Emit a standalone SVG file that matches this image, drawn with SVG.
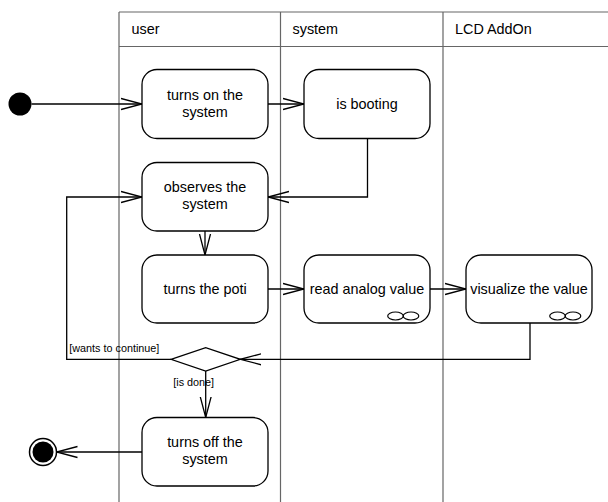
<svg xmlns="http://www.w3.org/2000/svg" width="608" height="502" viewBox="0 0 608 502">
<style>
  .lane { stroke: #666666; stroke-width: 1.2; fill: none; }
  .hdr { font-family: "Liberation Sans", Arial, sans-serif; font-size: 14.4px; fill: #000; }
  .act { fill: #ffffff; stroke: #000; stroke-width: 1.3; }
  .txt { font-family: "Liberation Sans", Arial, sans-serif; font-size: 14.4px; fill: #000; text-anchor: middle; }
  .lbl { font-family: "Liberation Sans", Arial, sans-serif; font-size: 10.8px; fill: #000; }
  .edge { fill: none; stroke: #000; stroke-width: 1.3; marker-end: url(#open); }
  .inf { fill: none; stroke: #000; stroke-width: 1.2; }
</style>
<defs>
  <marker id="open" markerUnits="userSpaceOnUse" markerWidth="24" markerHeight="14" refX="21" refY="6" orient="auto" viewBox="0 0 24 12">
    <path d="M0,0.5 L21,6 L0,11.5" fill="none" stroke="#000" stroke-width="1.3"/>
  </marker>
</defs>
<rect x="0" y="0" width="608" height="502" fill="#ffffff"/>
<g id="swimlanes">
  <path class="lane" d="M119,12 H608 M119,46.5 H608 M119,12 V502 M280.5,12 V502 M443,12 V502"/>
  <text class="hdr" x="131.5" y="33.5">user</text>
  <text class="hdr" x="292.5" y="33.5">system</text>
  <text class="hdr" x="455" y="33.5">LCD AddOn</text>
</g>
<g id="connectors">
  <path class="edge" d="M31.5,104 H142"/>
  <path class="edge" d="M268,104 H304"/>
  <path class="edge" d="M367.5,138.5 V197 H268"/>
  <path class="edge" d="M205,231 V255"/>
  <path class="edge" d="M268,289 H304"/>
  <path class="edge" d="M430,289 H466"/>
  <path class="edge" d="M530,323 V359.3 H240.3"/>
  <path class="edge" d="M171,359.3 H66.7 V197 H142"/>
  <path class="edge" d="M205.7,371 V417.5"/>
  <path class="edge" d="M142,452 H56.5"/>
  <text class="lbl" x="69.3" y="351.7">[wants to continue]</text>
  <text class="lbl" x="173.3" y="386">[is done]</text>
</g>
<g id="initial">
  <circle cx="20" cy="104" r="11.5" fill="#000"/>
</g>
<g id="turnsOn">
  <rect class="act" x="142" y="69.5" width="126" height="69" rx="15" ry="15"/>
  <text class="txt" x="205" y="99.5">turns on the</text>
  <text class="txt" x="205" y="116.8">system</text>
</g>
<g id="booting">
  <rect class="act" x="304" y="69.5" width="126" height="69" rx="15" ry="15"/>
  <text class="txt" x="367" y="109">is booting</text>
</g>
<g id="observes">
  <rect class="act" x="142" y="162.5" width="126" height="68.5" rx="15" ry="15"/>
  <text class="txt" x="205" y="192">observes the</text>
  <text class="txt" x="205" y="209.3">system</text>
</g>
<g id="poti">
  <rect class="act" x="142" y="255" width="126" height="68" rx="15" ry="15"/>
  <text class="txt" x="205" y="294">turns the poti</text>
</g>
<g id="readAnalog">
  <rect class="act" x="304" y="255" width="126" height="68" rx="15" ry="15"/>
  <text class="txt" x="367" y="294">read analog value</text>
  <ellipse class="inf" cx="395.5" cy="316" rx="7.8" ry="4"/>
  <ellipse class="inf" cx="411" cy="316" rx="7.8" ry="4"/>
</g>
<g id="visualize">
  <rect class="act" x="466" y="255" width="126" height="68" rx="15" ry="15"/>
  <text class="txt" x="529" y="294">visualize the value</text>
  <ellipse class="inf" cx="557.5" cy="316" rx="7.8" ry="4"/>
  <ellipse class="inf" cx="573" cy="316" rx="7.8" ry="4"/>
</g>
<g id="decision">
  <polygon class="act" points="171,359.3 205.7,347.7 240.3,359.3 205.7,371"/>
</g>
<g id="turnsOff">
  <rect class="act" x="142" y="417.5" width="126" height="68.5" rx="15" ry="15"/>
  <text class="txt" x="205" y="447">turns off the</text>
  <text class="txt" x="205" y="464.3">system</text>
</g>
<g id="final">
  <circle cx="43" cy="452" r="13.5" fill="#ffffff" stroke="#000" stroke-width="1.5"/>
  <circle cx="43" cy="452" r="10.5" fill="#000"/>
</g>
</svg>
